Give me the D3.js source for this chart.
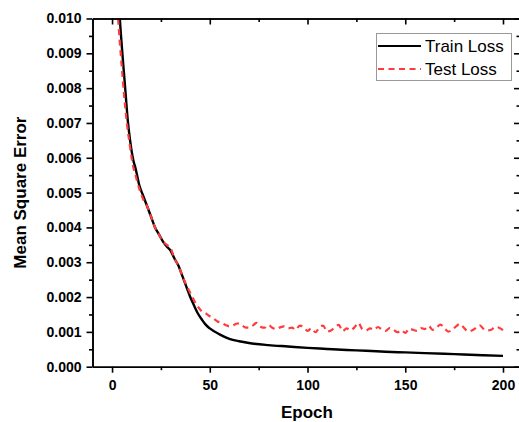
<!DOCTYPE html>
<html lang="en">
<head>
    <meta charset="UTF-8">
    <title>Loss</title>
    <style>
        body { margin: 0; background: #fff; }
        text { font-family: "Liberation Sans", Arial, sans-serif; }
    </style>
</head>
<body>
<div id="chart"></div>
<script src="https://cdn.jsdelivr.net/npm/d3@7"></script>
<script>
    // data
    const trainEpochs = [3, 4, 5, 6, 7, 8, 9, 10, 11, 12, 14, 16, 18, 20, 22, 24, 26, 28, 30, 32, 34, 36, 38, 40,
        42, 44, 46, 48, 50, 55, 60, 65, 70, 80, 90, 100, 110, 120, 130, 140, 150, 160, 170, 180, 190, 200];
    const trainLoss = [0.0112, 0.0100, 0.0092, 0.0085, 0.0078, 0.0071, 0.0066, 0.0062, 0.0059, 0.0057, 0.0052,
        0.0049, 0.0046, 0.0043, 0.0040, 0.0038, 0.0036, 0.00345, 0.00333, 0.0031, 0.0029, 0.0026, 0.0023, 0.0020,
        0.00175, 0.00152, 0.00135, 0.0012, 0.0011, 0.00093, 0.0008, 0.00073, 0.00068, 0.00062, 0.00058, 0.00054,
        0.00051, 0.00048, 0.00046, 0.00043, 0.00041, 0.00039, 0.00037, 0.00035, 0.00033, 0.00031];

    const testEpochs = [2, 3, 4, 5, 6, 7, 8, 9, 10, 11, 12, 14, 16, 18, 20, 22, 24, 26, 28, 30, 32, 34, 36, 38,
        40, 42, 44, 46, 48, 50, 52, 54, 56, 58, 60, 62, 64, 66, 68, 70, 72, 74, 76, 78, 80, 82, 84, 86, 88, 90,
        92, 94, 96, 98, 100, 102, 104, 106, 108, 110, 112, 114, 116, 118, 120, 122, 124, 126, 128, 130, 132,
        134, 136, 138, 140, 142, 144, 146, 148, 150, 152, 154, 156, 158, 160, 162, 164, 166, 168, 170, 172,
        174, 176, 178, 180, 182, 184, 186, 188, 190, 192, 194, 196, 198, 200];
    const testLoss = [0.0112, 0.0101, 0.0093, 0.0086, 0.0079, 0.0073, 0.0068, 0.0064, 0.0060, 0.0057, 0.0055,
        0.0051, 0.0048, 0.0046, 0.0043, 0.0040, 0.0038, 0.0036, 0.0035, 0.0034, 0.0031, 0.0029, 0.0026, 0.00235,
        0.00212, 0.0019, 0.00172, 0.00158, 0.00153, 0.00145, 0.00138, 0.0013, 0.00126, 0.0012, 0.00116,
        0.00119, 0.00124, 0.00122, 0.00113, 0.00112, 0.00118, 0.00126, 0.00115, 0.00112, 0.00120, 0.00112,
        0.00108, 0.00113, 0.00116, 0.00110, 0.00112, 0.00106, 0.00118, 0.00114, 0.00103, 0.00110, 0.00099,
        0.00112, 0.00118, 0.00101, 0.00104, 0.00113, 0.00120, 0.00102, 0.00110, 0.00104, 0.00113, 0.00126,
        0.00108, 0.00104, 0.00110, 0.00106, 0.00114, 0.00107, 0.00103, 0.00111, 0.00106, 0.00099, 0.00105,
        0.00097, 0.00109, 0.00106, 0.00103, 0.00111, 0.00108, 0.00117, 0.00106, 0.00112, 0.00121, 0.00111,
        0.00101, 0.00106, 0.00116, 0.00123, 0.00112, 0.00102, 0.00104, 0.00111, 0.00119, 0.00109, 0.00104,
        0.00106, 0.00114, 0.00112, 0.00105];

    const xTicks = [0, 50, 100, 150, 200];
    const xMinor = [25, 75, 125, 175];
    const yTicks = [0, 0.001, 0.002, 0.003, 0.004, 0.005, 0.006, 0.007, 0.008, 0.009, 0.010];
    const yMinor = [0.0005, 0.0015, 0.0025, 0.0035, 0.0045, 0.0055, 0.0065, 0.0075, 0.0085, 0.0095];

    const width = 519, height = 422;
    const pLeft = 92.5, pRight = 520, pTop = 18.5, pBottom = 366.7;

    let svg = d3.select("#chart")
        .append("svg")
        .attr("width", width)
        .attr("height", height);

    var x = d3.scaleLinear().domain([-10, 208.7]).range([pLeft, pRight]);
    var y = d3.scaleLinear().domain([0, 0.010]).range([pBottom, pTop]);

    svg.append("clipPath").attr("id", "clip")
        .append("rect")
        .attr("x", pLeft).attr("y", pTop)
        .attr("width", pRight - pLeft).attr("height", pBottom - pTop);

    // lines
    var line = d3.line()
        .x(d => x(d[0]))
        .y(d => y(d[1]))
        .curve(d3.curveMonotoneX);

    let plot = svg.append("g").attr("clip-path", "url(#clip)");

    plot.append("path")
        .datum(d3.zip(trainEpochs, trainLoss))
        .attr("d", line)
        .attr("fill", "none")
        .attr("stroke", "#000")
        .attr("stroke-width", 2.4);

    plot.append("path")
        .datum(d3.zip(testEpochs, testLoss))
        .attr("d", line)
        .attr("fill", "none")
        .attr("stroke", "#ff3b3b")
        .attr("stroke-width", 2.2)
        .attr("stroke-dasharray", "6,4.5");

    // axes
    function styleAxis(g) {
        g.select(".domain").attr("stroke-width", 1.6);
        g.selectAll(".tick line").attr("stroke-width", 1.6);
        g.selectAll(".tick text")
            .style("font-size", "14px")
            .style("font-weight", "bold")
            .style("font-family", "'Liberation Sans', Arial, sans-serif")
            .attr("fill", "#000");
    }

    // minor ticks first so major ones sit on top
    svg.append("g").attr("transform", `translate(0,${pBottom})`)
        .call(d3.axisBottom(x).tickValues(xMinor).tickSize(3.5).tickFormat("").tickSizeOuter(0))
        .call(styleAxis);
    svg.append("g").attr("transform", `translate(0,${pTop})`)
        .call(d3.axisTop(x).tickValues(xMinor).tickSize(-3.5).tickFormat("").tickSizeOuter(0))
        .call(styleAxis);
    svg.append("g").attr("transform", `translate(${pLeft},0)`)
        .call(d3.axisLeft(y).tickValues(yMinor).tickSize(3.5).tickFormat("").tickSizeOuter(0))
        .call(styleAxis);
    svg.append("g").attr("transform", `translate(${pRight},0)`)
        .call(d3.axisRight(y).tickValues(yMinor).tickSize(-3.5).tickFormat("").tickSizeOuter(0))
        .call(styleAxis);

    svg.append("g").attr("transform", `translate(0,${pBottom})`)
        .call(d3.axisBottom(x).tickValues(xTicks).tickSize(6).tickPadding(7).tickSizeOuter(0))
        .call(styleAxis);
    svg.append("g").attr("transform", `translate(0,${pTop})`)
        .call(d3.axisTop(x).tickValues(xTicks).tickSize(-6).tickFormat("").tickSizeOuter(0))
        .call(styleAxis);
    svg.append("g").attr("transform", `translate(${pLeft},0)`)
        .call(d3.axisLeft(y).tickValues(yTicks).tickSize(6).tickPadding(5).tickFormat(d3.format(".3f")).tickSizeOuter(0))
        .call(styleAxis);
    svg.append("g").attr("transform", `translate(${pRight},0)`)
        .call(d3.axisRight(y).tickValues(yTicks).tickSize(-6).tickFormat("").tickSizeOuter(0))
        .call(styleAxis);

    // axis titles
    svg.append("text")
        .attr("x", 307)
        .attr("y", 418)
        .attr("text-anchor", "middle")
        .style("font-size", "17px")
        .style("font-weight", "bold")
        .text("Epoch");

    svg.append("text")
        .attr("transform", `translate(26,${(pTop + pBottom) / 2}) rotate(-90)`)
        .attr("text-anchor", "middle")
        .style("font-size", "17px")
        .style("font-weight", "bold")
        .text("Mean Square Error");

    // legend
    let legend = svg.append("g");
    legend.append("rect")
        .attr("x", 376.5).attr("y", 33.5)
        .attr("width", 135).attr("height", 47)
        .attr("fill", "#fff")
        .attr("stroke", "#999")
        .attr("stroke-width", 1);

    var items = [
        {name: "Train Loss", color: "#000", dash: null},
        {name: "Test Loss", color: "#ff3b3b", dash: "6,4.5"}
    ];
    items.forEach((d, i) => {
        let cy = 46 + i * 23;
        legend.append("line")
            .attr("x1", 378).attr("x2", 421)
            .attr("y1", cy).attr("y2", cy)
            .attr("stroke", d.color)
            .attr("stroke-width", 2.2)
            .attr("stroke-dasharray", d.dash);
        legend.append("text")
            .attr("x", 425)
            .attr("y", cy)
            .attr("dy", "0.36em")
            .style("font-size", "17px")
            .text(d.name);
    });
</script>
</body>
</html>
